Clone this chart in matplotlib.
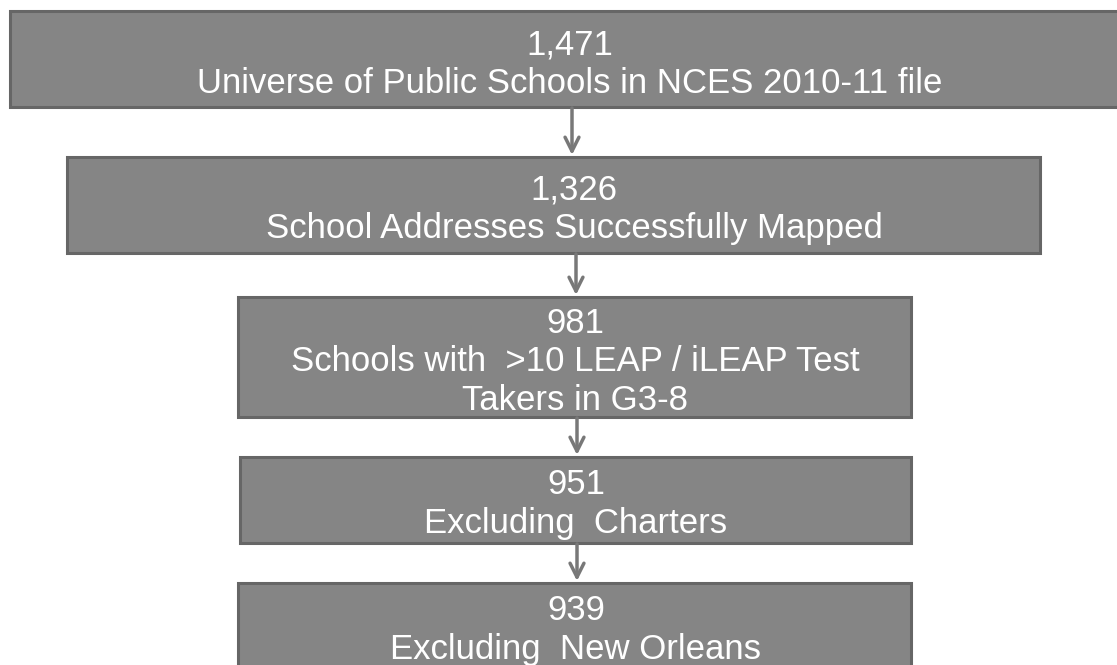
import matplotlib.pyplot as plt
from matplotlib.patches import Rectangle

plt.rcParams['font.family'] = ['Liberation Sans', 'DejaVu Sans']

counts = ['1,471', '1,326', '981', '951', '939']
descriptions = [
    'Universe of Public Schools in NCES 2010-11 file',
    'School Addresses Successfully Mapped',
    'Schools with  >10 LEAP / iLEAP Test\nTakers in G3-8',
    'Excluding  Charters',
    'Excluding  New Orleans',
]

# box layout in pixels: left, top, right, bottom
boxes = [
    (10, 11, 1130, 107),
    (67, 157, 1040, 253),
    (238, 297, 911, 417),
    (240, 457, 911, 543),
    (238, 583, 911, 700),
]
# text centre x and baseline of the last line
text_x = [570, 574, 575, 576, 576]
text_base = [93, 238, 410, 533, 659]
arrow_x = [572, 576, 577, 577]

FILL = '#858585'
EDGE = '#666666'

fig = plt.figure(figsize=(11.17, 6.65), dpi=100)
ax = fig.add_axes([0, 0, 1, 1])
ax.set_xlim(0, 1117)
ax.set_ylim(665, 0)
ax.axis('off')

for i, (left, top, right, bottom) in enumerate(boxes):
    ax.add_patch(Rectangle((left, top), right - left, bottom - top,
                           facecolor=FILL, edgecolor=EDGE, linewidth=2.2))
    label = counts[i] + '\n' + descriptions[i]
    ax.text(text_x[i], text_base[i], label,
            ha='center', va='baseline', color='white', fontsize=25,
            linespacing=1.22)

for i, x in enumerate(arrow_x):
    y0 = boxes[i][3] + 1
    y1 = boxes[i + 1][1] - 2
    ax.annotate('', xy=(x, y1), xytext=(x, y0),
                arrowprops=dict(arrowstyle='->', color='#787878', lw=2.5,
                                mutation_scale=25, shrinkA=0, shrinkB=0))

fig.savefig('out.png', dpi=100)
